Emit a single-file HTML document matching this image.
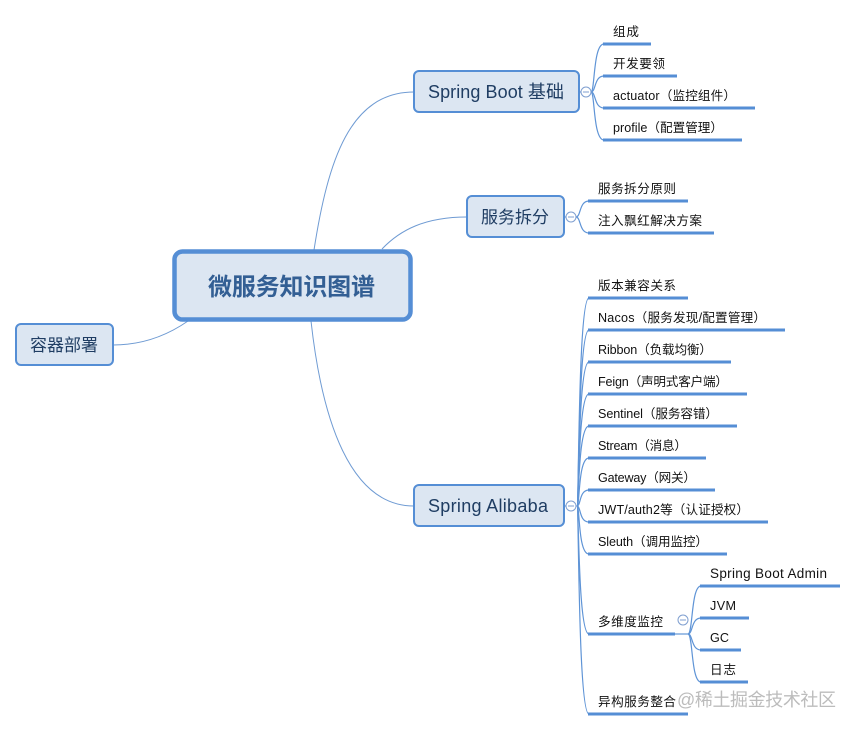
<!DOCTYPE html>
<html>
<head>
<meta charset="utf-8">
<style>
html,body{margin:0;padding:0;background:#fff;width:858px;height:731px;overflow:hidden}
svg{display:block}
text{font-family:"Liberation Sans","Noto Sans CJK SC",sans-serif}
.l{font-size:12.6px;fill:#111}
.n{font-size:17px;fill:#1f3d63}
.nl{font-size:18px;fill:#1f3d63}
.u{stroke:#558ed5;stroke-width:3;fill:none}
.c{stroke:#6f9bd3;stroke-width:1;fill:none}
.b{stroke:#5f94d6;stroke-width:1.2;fill:none}
.box{fill:#dce6f2;stroke:#558ed5;stroke-width:2}
.o{fill:#fff;stroke:#7f9fd0;stroke-width:1}
.m{stroke:#7f9fd0;stroke-width:1}
</style>
</head>
<body>
<svg width="858" height="731" viewBox="0 0 858 731" xmlns="http://www.w3.org/2000/svg">
<!-- main connectors -->
<path class="c" d="M314 250C328 160 350 92 414 92"/>
<path class="c" d="M382 249C400 230 425 217 467 217"/>
<path class="c" d="M311 321C322 420 350 506 414 506"/>
<path class="c" d="M188 321C165 337 140 345 113 345"/>

<!-- Spring Boot branches -->
<g class="b">
<path d="M580 92H591"/>
<path d="M591 92C595 92 593 44 604 44"/>
<path d="M591 92C596 92 594 76 604 76"/>
<path d="M591 92C596 92 594 108 604 108"/>
<path d="M591 92C595 92 593 140 604 140"/>
</g>
<g class="u"><path d="M603 44H651M603 76H677M603 108H755M603 140H742"/></g>

<!-- split branches -->
<g class="b">
<path d="M565 217H576"/>
<path d="M576 217C581 217 579 201 589 201"/>
<path d="M576 217C581 217 579 233 589 233"/>
</g>
<g class="u"><path d="M588 201H688M588 233H714"/></g>

<!-- Alibaba branches -->
<g class="b">
<path d="M565 506H577"/>
<path d="M577 506C579 506 578 298 589 298"/>
<path d="M577 506C579 506 578 330 589 330"/>
<path d="M577 506C579 506 578 362 589 362"/>
<path d="M577 506C579 506 578 394 589 394"/>
<path d="M577 506C579 506 578 426 589 426"/>
<path d="M577 506C580 506 578 458 589 458"/>
<path d="M577 506C581 506 579 490 589 490"/>
<path d="M577 506C581 506 579 522 589 522"/>
<path d="M577 506C580 506 578 554 589 554"/>
<path d="M577 506C579 506 578 634 589 634"/>
<path d="M577 506C579 506 578 714 589 714"/>
</g>
<g class="u"><path d="M588 298H688M588 330H785M588 362H731M588 394H747M588 426H737M588 458H706M588 490H715M588 522H768M588 554H727M588 634H675M588 714H688"/></g>

<!-- monitoring branches -->
<g class="b">
<path d="M675 634H688"/>
<path d="M688 634C693 634 691 586 701 586"/>
<path d="M688 634C693 634 691 618 701 618"/>
<path d="M688 634C693 634 691 650 701 650"/>
<path d="M688 634C693 634 691 682 701 682"/>
</g>
<g class="u"><path d="M700 586H840M700 618H749M700 650H741M700 682H748"/></g>

<!-- nodes -->
<rect x="174.500" y="251.500" width="236" height="68" rx="8" fill="#dce6f2" stroke="#558ed5" stroke-width="4.500"/>
<text x="208" y="295" font-size="24" font-weight="bold" fill="#335f94" textLength="167" lengthAdjust="spacing">微服务知识图谱</text>

<rect class="box" x="414" y="71" width="165" height="41" rx="5"/>
<text class="nl" x="428" y="98" textLength="136" lengthAdjust="spacing">Spring Boot 基础</text>
<rect class="box" x="467" y="196" width="97" height="41" rx="5"/>
<text class="n" x="481" y="223" textLength="68" lengthAdjust="spacing">服务拆分</text>
<rect class="box" x="414" y="485" width="150" height="41" rx="5"/>
<text class="nl" x="428" y="512" textLength="120" lengthAdjust="spacing">Spring Alibaba</text>
<rect class="box" x="16" y="324" width="97" height="41" rx="5"/>
<text class="n" x="30" y="351" textLength="68" lengthAdjust="spacing">容器部署</text>

<!-- collapse markers -->
<circle class="o" cx="586" cy="92" r="5"/><path class="m" d="M583 92H589"/>
<circle class="o" cx="571" cy="217" r="5"/><path class="m" d="M568 217H574"/>
<circle class="o" cx="571" cy="506" r="5"/><path class="m" d="M568 506H574"/>
<circle class="o" cx="683" cy="620" r="5"/><path class="m" d="M680 620H686"/>

<!-- labels -->
<text class="l" x="613" y="36" textLength="26" lengthAdjust="spacing">组成</text>
<text class="l" x="613" y="68" textLength="52" lengthAdjust="spacing">开发要领</text>
<text class="l" x="613" y="100" textLength="123" lengthAdjust="spacing">actuator（监控组件）</text>
<text class="l" x="613" y="132" textLength="110" lengthAdjust="spacing">profile（配置管理）</text>
<text class="l" x="598" y="193" textLength="78" lengthAdjust="spacing">服务拆分原则</text>
<text class="l" x="598" y="225" textLength="104" lengthAdjust="spacing">注入飘红解决方案</text>
<text class="l" x="598" y="290" textLength="78" lengthAdjust="spacing">版本兼容关系</text>
<text class="l" x="598" y="322" textLength="168" lengthAdjust="spacing">Nacos（服务发现/配置管理）</text>
<text class="l" x="598" y="354" textLength="114" lengthAdjust="spacing">Ribbon（负载均衡）</text>
<text class="l" x="598" y="386" textLength="130" lengthAdjust="spacing">Feign（声明式客户端）</text>
<text class="l" x="598" y="418" textLength="120" lengthAdjust="spacing">Sentinel（服务容错）</text>
<text class="l" x="598" y="450" textLength="89" lengthAdjust="spacing">Stream（消息）</text>
<text class="l" x="598" y="482" textLength="98" lengthAdjust="spacing">Gateway（网关）</text>
<text class="l" x="598" y="514" textLength="151" lengthAdjust="spacing">JWT/auth2等（认证授权）</text>
<text class="l" x="598" y="546" textLength="110" lengthAdjust="spacing">Sleuth（调用监控）</text>
<text class="l" x="598" y="626" textLength="65" lengthAdjust="spacing">多维度监控</text>
<text class="l" x="598" y="706" textLength="78" lengthAdjust="spacing">异构服务整合</text>
<text class="l" style="font-size:13.5px" x="710" y="578" textLength="117" lengthAdjust="spacing">Spring Boot Admin</text>
<text class="l" x="710" y="610" textLength="26" lengthAdjust="spacing">JVM</text>
<text class="l" x="710" y="642" textLength="19" lengthAdjust="spacing">GC</text>
<text class="l" x="710" y="674" textLength="26" lengthAdjust="spacing">日志</text>

<!-- watermark -->
<text x="677" y="706" font-size="18" fill="#bcbcbc" textLength="159" lengthAdjust="spacing">@稀土掘金技术社区</text>
</svg>
</body>
</html>
